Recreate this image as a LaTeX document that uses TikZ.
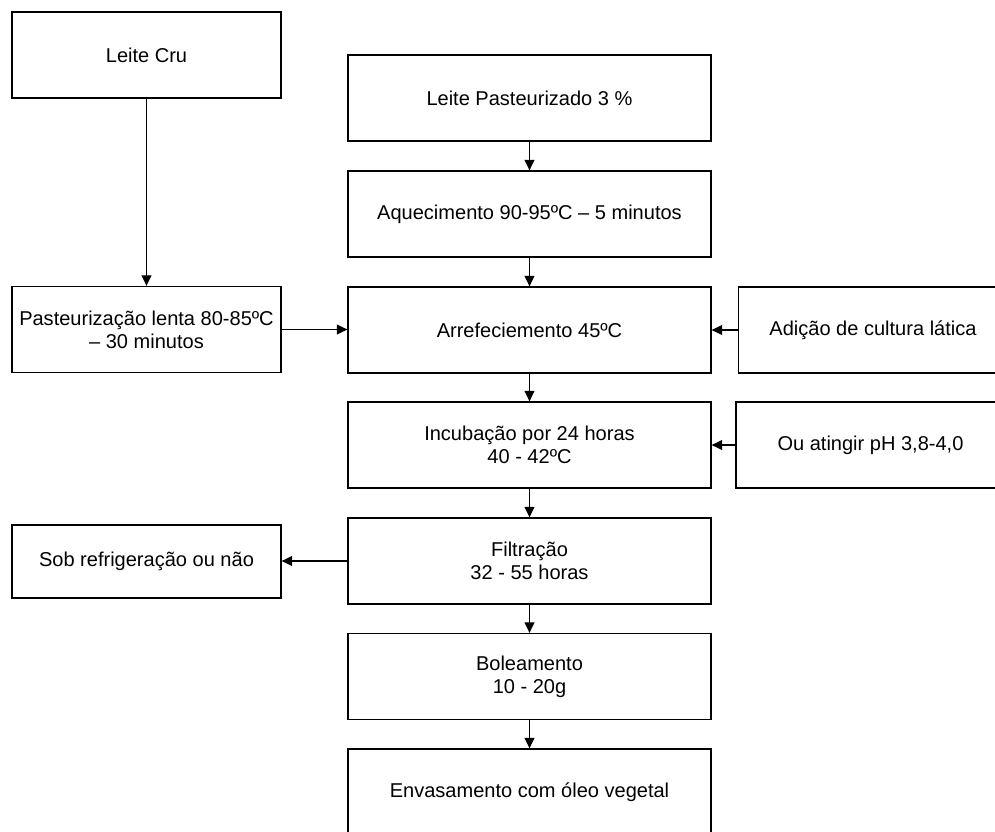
\documentclass[tikz,border=0pt]{standalone}
\usepackage{fontspec}
\setmainfont{Liberation Sans}
\usetikzlibrary{arrows.meta,positioning}

\begin{document}
\begin{tikzpicture}[
  x=0.02cm, y=-0.02cm,
  sbox/.style={rectangle, draw=black, line width=0.75pt, fill=white,
               minimum width=5.38cm, minimum height=1.72cm, inner sep=2pt,
               font=\fontsize{11.4}{13.2}\selectfont, align=center},
  mbox/.style={sbox, minimum width=7.26cm},
  arr/.style={-{Triangle[length=6pt,width=5.6pt]}, line width=0.75pt}
]
\useasboundingbox (0,0) rectangle (995,832);
\clip (0,0) rectangle (995,832);

% Main column
\node[mbox] (pasteur) at (529.5, 98)  {Leite Pasteurizado 3 \%};
\node[mbox] (aquec)   at (529.5, 214) {Aquecimento 90-95ºC – 5 minutos};
\node[mbox] (arref)   at (529.5, 330) {Arrefeciemento 45ºC};
\node[mbox] (incub)   at (529.5, 445) {Incubação por 24 horas\\40 - 42ºC};
\node[mbox] (filtr)   at (529.5, 561) {Filtração\\32 - 55 horas};
\node[mbox] (bolea)   at (529.5, 676.5) {Boleamento\\10 - 20g};
\node[mbox] (envase)  at (529.5, 792) {Envasamento com óleo vegetal};

% Left column
\node[sbox] (cru)    at (146.5, 55)    {Leite Cru};
\node[sbox] (lenta)  at (146.5, 329.5) {Pasteurização lenta 80-85ºC\\– 30 minutos};
\node[sbox, minimum height=1.46cm] (refrig) at (146.5, 561.5) {Sob refrigeração ou não};

% Right column
\node[sbox] (cultura) at (873, 330) {Adição de cultura lática};
\node[sbox] (ph)      at (870.5, 445) {Ou atingir pH 3,8-4,0};

% Arrows
\draw[arr] (pasteur) -- (aquec);
\draw[arr] (aquec)   -- (arref);
\draw[arr] (arref)   -- (incub);
\draw[arr] (incub)   -- (filtr);
\draw[arr] (filtr)   -- (bolea);
\draw[arr] (bolea)   -- (envase);
\draw[arr] (cru)     -- (lenta);
\draw[arr] (lenta.east) -- (lenta.east -| arref.west);
\draw[arr] (cultura.west) -- (cultura.west -| arref.east);
\draw[arr] (ph.west) -- (ph.west -| incub.east);
\draw[arr] (filtr.west) -- (filtr.west -| refrig.east);
\end{tikzpicture}
\end{document}
